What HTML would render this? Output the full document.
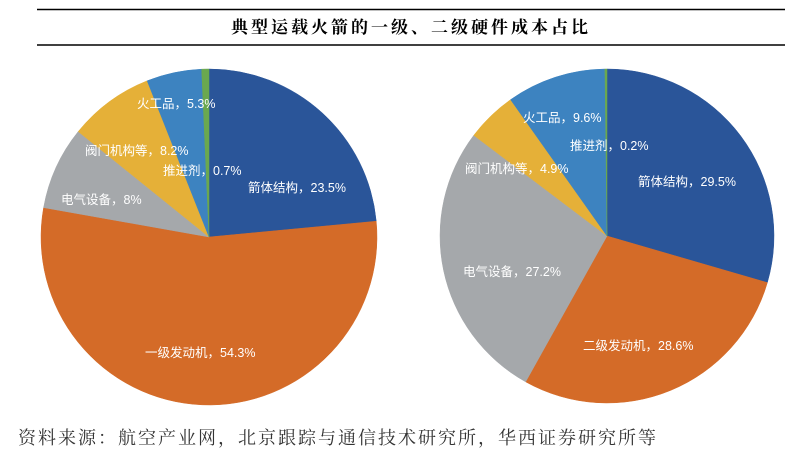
<!DOCTYPE html>
<html><head><meta charset="utf-8"><style>
body{margin:0;background:#fff;width:801px;height:451px;overflow:hidden;}
svg{display:block}
.l{font-family:"Liberation Sans","Noto Sans CJK SC",sans-serif;font-size:12.5px;fill:#fff;}
</style></head><body>
<svg id="s" width="801" height="451" xmlns="http://www.w3.org/2000/svg">
<line x1="37" y1="9.5" x2="785" y2="9.5" stroke="#000" stroke-width="1.5"/>
<line x1="37" y1="45" x2="785" y2="45" stroke="#000" stroke-width="1.5"/>
<text x="411" y="33" text-anchor="middle" font-family="'Liberation Serif','Noto Serif CJK SC',serif" font-size="17" font-weight="bold" fill="#000" letter-spacing="3">典型运载火箭的一级、二级硬件成本占比</text>
<g id="p1"></g><g id="p2"></g>
<g class="l">
<text x="137" y="108">火工品，5.3%</text>
<text x="85" y="155">阀门机构等，8.2%</text>
<text x="163" y="175">推进剂，0.7%</text>
<text x="248" y="192">箭体结构，23.5%</text>
<text x="61" y="204">电气设备，8%</text>
<text x="145" y="357">一级发动机，54.3%</text>
<text x="523" y="122">火工品，9.6%</text>
<text x="570" y="150">推进剂，0.2%</text>
<text x="465" y="173">阀门机构等，4.9%</text>
<text x="638" y="186">箭体结构，29.5%</text>
<text x="463" y="276">电气设备，27.2%</text>
<text x="583" y="350">二级发动机，28.6%</text>
</g>
<text x="18" y="444" font-family="'Liberation Serif','Noto Serif CJK SC',serif" font-size="18" fill="#333" letter-spacing="2">资料来源：航空产业网，北京跟踪与通信技术研究所，华西证券研究所等</text>
</svg>
<script>
var C=["#2a5599","#d46b28","#a5a8ab","#e5b038","#3d83c0","#6aa84f"];
function pie(id,cx,cy,r,v){var g=document.getElementById(id),a=0,h="";
for(var i=0;i<v.length;i++){var a0=a,a1=a+v[i]/100*2*Math.PI;a=a1;
var x0=cx+r*Math.sin(a0),y0=cy-r*Math.cos(a0),x1=cx+r*Math.sin(a1),y1=cy-r*Math.cos(a1);
h+='<path d="M'+cx+','+cy+'L'+x0+','+y0+'A'+r+','+r+' 0 '+((a1-a0)>Math.PI?1:0)+' 1 '+x1+','+y1+'Z" fill="'+C[i]+'" stroke="'+C[i]+'" stroke-width="0.5"/>';}
g.innerHTML=h;}
pie("p1",209,237,168,[23.5,54.3,8,8.2,5.3,0.7]);
pie("p2",607,236,167,[29.5,28.6,27.2,4.9,9.6,0.2]);
</script>
</body></html>
